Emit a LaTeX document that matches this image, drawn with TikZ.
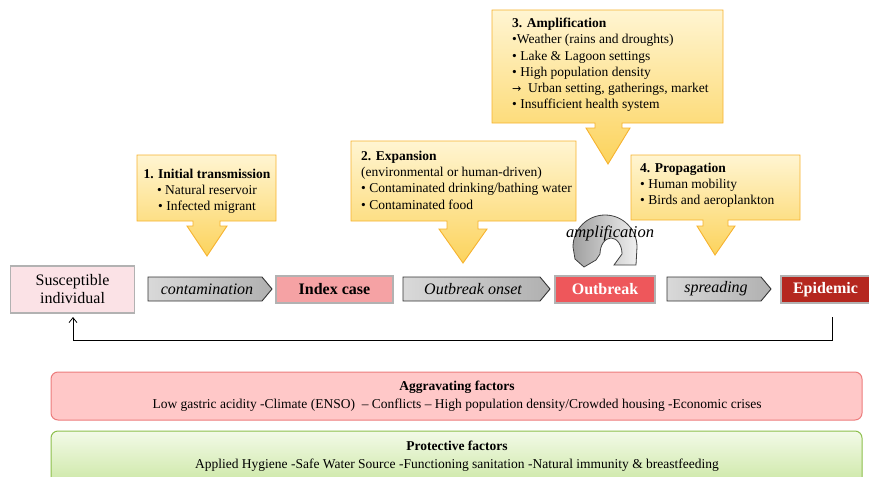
\documentclass[tikz,border=0pt]{standalone}
\usepackage{fontspec}
\setmainfont{Liberation Serif}
\newfontfamily\arrfont{DejaVu Sans}
\usetikzlibrary{arrows.meta}
\definecolor{calltop}{HTML}{FFF5D2}
\definecolor{callbot}{HTML}{FCD35C}
\definecolor{callline}{HTML}{F6B22E}
\definecolor{suscol}{HTML}{FBE2E6}
\definecolor{idxcol}{HTML}{F5A2A4}
\definecolor{obcol}{HTML}{EE575B}
\definecolor{epicol}{HTML}{B5271F}
\definecolor{aggfill}{HTML}{FFC8C8}
\definecolor{aggline}{HTML}{EC7C7C}
\definecolor{protop}{HTML}{F3FAE8}
\definecolor{probot}{HTML}{CBE7A3}
\definecolor{proline}{HTML}{8DBF4C}
\begin{document}
\begin{tikzpicture}[x=1pt,y=-1pt,
  callout/.style={top color=calltop,bottom color=callbot,draw=callline,line width=0.9pt,line join=miter},
  calltext/.style={font=\fontsize{13.5}{16.2}\selectfont,inner sep=0pt,align=left},
  stagebox/.style={draw=gray!60,line width=1.4pt,minimum height=27pt,inner sep=0pt,font=\fontsize{16}{18}\selectfont\bfseries},
  chev/.style={left color=gray!30,right color=gray!62,draw=black!80,line width=0.9pt},
  chevtext/.style={font=\fontsize{16}{18}\selectfont\itshape,inner sep=0pt},
  factbox/.style={rounded corners=7pt,line width=1pt},
  facttext/.style={font=\fontsize{13.5}{18}\selectfont,align=center,inner sep=0pt}]
\useasboundingbox (0,0) rectangle (869,476);
\clip (0,0) rectangle (869,476);

% ---- callouts ----
\path[callout] (137,155) -- (276,155) -- (276,221) -- (220,221) -- (220,226) -- (227,226)
  -- (207,256) -- (187,226) -- (193,226) -- (193,221) -- (137,221) -- cycle;
\node[calltext,align=center,anchor=north] (c1) at (207,169)
  {\textbf{1. Initial transmission}\\• Natural reservoir\\• Infected migrant};

\path[callout] (351,141) -- (576,141) -- (576,221) -- (478,221) -- (478,229) -- (487,229)
  -- (463,263) -- (439,229) -- (447,229) -- (447,221) -- (351,221) -- cycle;
\node[calltext,anchor=north west] (c2) at (361,151)
  {\textbf{2. Expansion}\\(environmental or human-driven)\\• Contaminated drinking/bathing water\\• Contaminated food};

\path[callout] (492,10) -- (723,10) -- (723,123) -- (622,123) -- (622,128) -- (630,128)
  -- (608,164) -- (586,128) -- (595,128) -- (595,123) -- (492,123) -- cycle;
\node[calltext,anchor=north west] (c3) at (512,18)
  {\textbf{3. Amplification}\\•Weather (rains and droughts)\\• Lake \& Lagoon settings\\• High population density\\{\arrfont\fontsize{11}{16}\selectfont →}\ \ Urban setting, gatherings, market\\• Insufficient health system};

\path[callout] (631,155) -- (800,155) -- (800,220) -- (728,220) -- (728,226) -- (735,226)
  -- (715,255) -- (697,226) -- (703,226) -- (703,220) -- (631,220) -- cycle;
\node[calltext,anchor=north west] (c4) at (640,163)
  {\textbf{4. Propagation}\\• Human mobility\\• Birds and aeroplankton};

% ---- amplification arch ----
\path[left color=gray!75,right color=gray!12,draw=black!75,line width=0.8pt]
  (575,259) -- (573,247) arc[start angle=180,end angle=360,x radius=32,y radius=32]
  -- (636,265) -- (614,265) -- (622,254)
  arc[start angle=0,end angle=-180,x radius=11,y radius=16]
  -- (596,260) -- (584,267) -- cycle;
\node[chevtext,font=\fontsize{16.5}{18}\selectfont\itshape] (amp) at (610,233) {amplification};

% ---- timeline ----
\node[draw=gray!60,fill=suscol,line width=1.4pt,minimum width=124pt,minimum height=47pt,
  inner sep=0pt,align=center,font=\fontsize{16}{18}\selectfont] (sus) at (72.5,289.5)
  {Susceptible\\individual};

\path[chev] (148,277) -- (262,277) -- (272,289) -- (262,301) -- (148,301) -- cycle;
\node[chevtext] (t1) at (207,289) {contamination};

\node[stagebox,fill=idxcol,minimum width=117pt] (idx) at (334.5,289.5) {Index case};

\path[chev] (403,277) -- (540,277) -- (550,289) -- (540,301) -- (403,301) -- cycle;
\node[chevtext] (t2) at (473,289) {Outbreak onset};

\node[stagebox,fill=obcol,text=white,minimum width=100pt] (ob) at (605,289.5) {Outbreak};

\path[chev] (667,277) -- (761,277) -- (771,289) -- (761,301) -- (667,301) -- cycle;
\node[chevtext] (t3) at (716,289) {spreading};

\node[stagebox,fill=epicol,text=white,minimum width=96pt,text width=96pt,align=left] (epi) at (829,289.5)
  {\hspace{12pt}Epidemic};

% ---- feedback loop ----
\coordinate (fbstart) at (832,317);
\coordinate (fbend) at (73,317);
\draw[line width=0.8pt,-{Straight Barb[length=5pt,width=8pt]}] (fbstart) -- ++(0,23) -| (fbend);

% ---- factor boxes ----
\path[factbox,fill=aggfill,draw=aggline] (51,372) rectangle (862,420);
\node[facttext] (agg) at (457,396)
  {\textbf{Aggravating factors}\\Low gastric acidity -Climate (ENSO)~ – Conflicts – High population density/Crowded housing -Economic crises};

\path[factbox,top color=protop,bottom color=probot,draw=proline] (51,431) rectangle (862,486);
\node[facttext] (pro) at (457,456)
  {\textbf{Protective factors}\\Applied Hygiene -Safe Water Source -Functioning sanitation -Natural immunity \& breastfeeding};
\end{tikzpicture}
\end{document}
